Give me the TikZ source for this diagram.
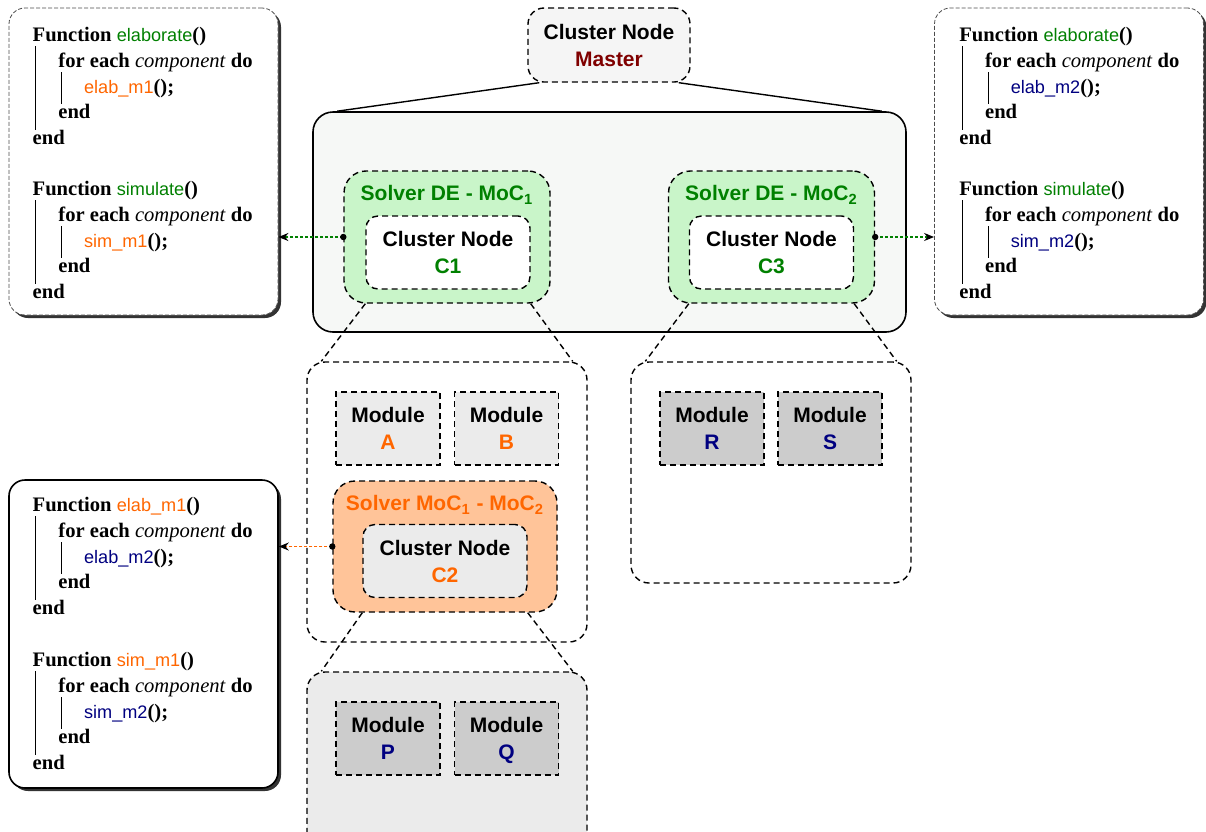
\documentclass[tikz,border=0pt]{standalone}
\usepackage{fontspec}
\setmainfont{Liberation Serif}
\setsansfont{Liberation Sans}
\newfontfamily\codesf{Liberation Sans}[Scale=0.88]
\usetikzlibrary{shadows, positioning, arrows.meta, calc}

\definecolor{dkgreen}{HTML}{008000}
\definecolor{orng}{HTML}{FF6600}
\definecolor{mnavy}{HTML}{000080}
\definecolor{mred}{HTML}{800000}
\definecolor{solgreen}{HTML}{C9F5C9}
\definecolor{solorange}{HTML}{FFC499}
\definecolor{lvlfill}{HTML}{F6F8F6}
\definecolor{modlight}{HTML}{EBEBEB}
\definecolor{moddark}{HTML}{CCCCCC}

\newcommand{\lblfont}{\fontsize{10.5}{13.5}\selectfont\sffamily\bfseries}
\newcommand{\codefont}{\fontsize{10.3}{12.8}\selectfont\rmfamily}
\newcommand{\fname}[2]{\textcolor{#1}{\codesf #2}}

% one function of the pseudo code: id, x, y, name, call
\newcommand{\funcblock}[5]{%
  \node[codeline] (#1fn) at (#2,#3) {\textbf{Function} #4\textbf{()}};
  \node[codeline] (#1for) at (#2+25.7,#3+25.7) {\textbf{for each} \textit{component} \textbf{do}};
  \node[codeline] (#1call) at (#2+51.4,#3+51.4) {#5\textbf{();}};
  \node[codeline] (#1end) at (#2+25.7,#3+77.1) {\textbf{end}};
  \node[codeline] (#1End) at (#2,#3+102.8) {\textbf{end}};
  \draw[codebar] ($(#1fn.south west)+(3.4,0)$) -- ($(#1End.north west)+(3.4,0)$);
  \draw[codebar] ($(#1for.south west)+(3.4,0)$) -- ($(#1end.north west)+(3.4,0)$);
}

\begin{document}
\begin{tikzpicture}[
    x=0.5pt, y=-0.5pt,
    dsh/.style={dash pattern=on 3pt off 2pt, line width=0.7pt},
    cluster/.style={draw, dsh, rounded corners=6pt, minimum width=82pt, minimum height=36.5pt, align=center, font=\lblfont, inner sep=0pt},
    solver/.style={draw, dsh, rounded corners=11pt, minimum width=103pt, minimum height=66pt, inner sep=0pt},
    soltext/.style={font=\lblfont, inner sep=0pt},
    module/.style={draw, dsh, minimum width=52pt, minimum height=36.5pt, align=center, font=\lblfont, inner sep=0pt},
    group/.style={draw, dsh, rounded corners=9pt, minimum width=140pt, inner sep=0pt},
    zoomline/.style={dsh},
    link/.style={line width=0.7pt, dash pattern=on 1.5pt off 1pt, -{Stealth[black, length=5pt, width=4pt]}},
    codebox/.style={draw, rounded corners=8pt, fill=white, minimum width=134.5pt, minimum height=153.5pt, drop shadow={shadow xshift=1.5pt, shadow yshift=-1.5pt, fill=black!80, opacity=1}},
    codeline/.style={anchor=base west, inner sep=0pt, font=\codefont},
    codebar/.style={line width=0.5pt}
]
    \useasboundingbox (0,0) rectangle (1206,831);

    % --- Master ---
    \node[cluster, fill=black!4, rounded corners=8pt, minimum width=81pt, minimum height=37pt] (master) at (609,45) {Cluster Node\\\textcolor{mred}{Master}};

    % --- First level ---
    \node[draw, line width=0.8pt, rounded corners=10pt, fill=lvlfill, minimum width=296.5pt, minimum height=110pt] (level1) at (609.5,222) {};
    \draw[line width=0.7pt] ([xshift=6pt]master.south west) -- ([xshift=12.5pt]level1.north west);
    \draw[line width=0.7pt] ([xshift=-6pt]master.south east) -- ([xshift=-12.5pt]level1.north east);

    \node[solver, fill=solgreen] (solA) at (447,237) {};
    \node[soltext, text=dkgreen] (solAt) at (447,195) {Solver DE - MoC\textsubscript{1}};
    \node[cluster, fill=white] (cn1) at (448,252.5) {Cluster Node\\\textcolor{dkgreen}{C1}};

    \node[solver, fill=solgreen] (solB) at (771.5,237) {};
    \node[soltext, text=dkgreen] (solBt) at (771.5,195) {Solver DE - MoC\textsubscript{2}};
    \node[cluster, fill=white] (cn3) at (771.5,252.5) {Cluster Node\\\textcolor{dkgreen}{C3}};

    % --- C1 expanded ---
    \node[group, fill=white, minimum height=140pt] (grp1) at (447,502) {};
    \node[module, fill=modlight] (modA) at (388,428.5) {Module\\\textcolor{orng}{A}};
    \node[module, fill=modlight] (modB) at (506.5,428.5) {Module\\\textcolor{orng}{B}};
    \node[solver, fill=solorange, minimum width=112pt, minimum height=65.5pt] (solC) at (445,546.5) {};
    \node[soltext, text=orng] (solCt) at (445,505) {Solver MoC\textsubscript{1} - MoC\textsubscript{2}};
    \node[cluster, fill=modlight] (cn2) at (445,561) {Cluster Node\\\textcolor{orng}{C2}};

    % --- C3 expanded ---
    \node[group, fill=white, minimum height=110.5pt] (grp3) at (771,472.5) {};
    \node[module, fill=moddark] (modR) at (712,428.5) {Module\\\textcolor{mnavy}{R}};
    \node[module, fill=moddark] (modS) at (830,428.5) {Module\\\textcolor{mnavy}{S}};

    % --- C2 expanded ---
    \node[group, fill=modlight, minimum height=100pt] (grp2) at (447,772) {};
    \node[module, fill=moddark] (modP) at (388,738.5) {Module\\\textcolor{mnavy}{P}};
    \node[module, fill=moddark] (modQ) at (506.5,738.5) {Module\\\textcolor{mnavy}{\raisebox{0pt}[\height][0pt]{Q}}};

    % zoom lines
    \draw[zoomline] (cn1.west |- solA.south) -- ([xshift=7.5pt]grp1.north west);
    \draw[zoomline] (cn1.east |- solA.south) -- ([xshift=-7.5pt]grp1.north east);
    \draw[zoomline] (cn3.west |- solB.south) -- ([xshift=7.5pt]grp3.north west);
    \draw[zoomline] (cn3.east |- solB.south) -- ([xshift=-7.5pt]grp3.north east);
    \draw[zoomline] (cn2.west |- solC.south) -- ([xshift=7.5pt]grp2.north west);
    \draw[zoomline] (cn2.east |- solC.south) -- ([xshift=-7.5pt]grp2.north east);

    % --- Pseudo code ---
    \node[codebox, draw=black!70, dash pattern=on 2pt off 1pt, line width=0.4pt] (codeA) at (143.5,161.5) {};
    \node[codebox, draw=black!70, dash pattern=on 2pt off 1pt, line width=0.4pt] (codeB) at (1069,161.5) {};
    \node[codebox, line width=0.8pt, minimum height=154pt] (codeC) at (143.5,634) {};

    \funcblock{ae}{32.3}{41.7}{\fname{dkgreen}{elaborate}}{\fname{orng}{elab\_m1}}
    \funcblock{as}{32.3}{195.7}{\fname{dkgreen}{simulate}}{\fname{orng}{sim\_m1}}
    \funcblock{be}{959}{41.7}{\fname{dkgreen}{elaborate}}{\fname{mnavy}{elab\_m2}}
    \funcblock{bs}{959}{195.7}{\fname{dkgreen}{simulate}}{\fname{mnavy}{sim\_m2}}
    \funcblock{ce}{32.3}{511.7}{\fname{orng}{elab\_m1}}{\fname{mnavy}{elab\_m2}}
    \funcblock{cs}{32.3}{666.7}{\fname{orng}{sim\_m1}}{\fname{mnavy}{sim\_m2}}

    % links to the code
    \draw[link, dkgreen] (solA.west) -- (solA.west -| codeA.east);
    \draw[link, dkgreen] (solB.east) -- (solB.east -| codeB.west);
    \draw[link, orng] (solC.west) -- (solC.west -| codeC.east);
    \fill (solA.west) circle (1.6pt);
    \fill (solB.east) circle (1.6pt);
    \fill (solC.west) circle (1.6pt);

\end{tikzpicture}
\end{document}
